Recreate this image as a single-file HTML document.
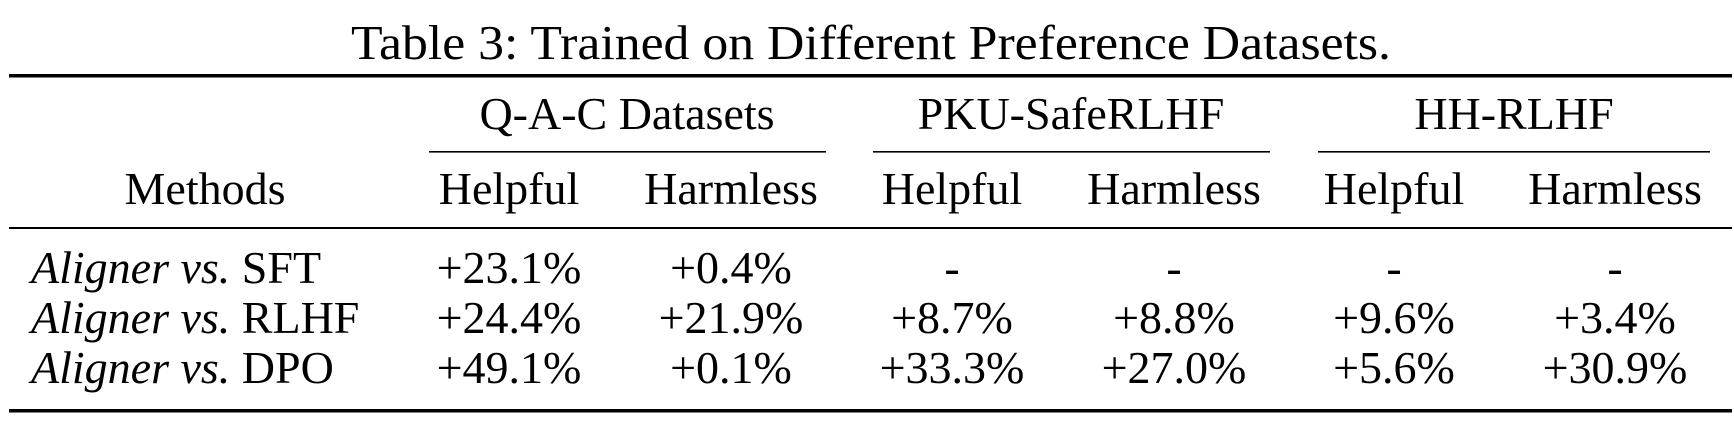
<!DOCTYPE html>
<html><head><meta charset="utf-8"><style>
html,body{margin:0;padding:0;background:#fff;}
svg{display:block;}
text{font-family:"Liberation Serif",serif;fill:#000;}
</style></head><body>
<svg width="1734" height="432" viewBox="0 0 1734 432">
<text x="871" y="59" font-size="49" text-anchor="middle" textLength="1040" lengthAdjust="spacingAndGlyphs">Table 3: Trained on Different Preference Datasets.</text>
<rect x="9" y="74" width="1723" height="3.5"/>
<g font-size="46" text-anchor="middle">
<text x="627" y="129">Q-A-C Datasets</text>
<text x="1071" y="129">PKU-SafeRLHF</text>
<text x="1514" y="129">HH-RLHF</text>
</g>
<rect x="429" y="151" width="397" height="1.6"/>
<rect x="873" y="151" width="397" height="1.6"/>
<rect x="1318" y="151" width="392" height="1.6"/>
<g font-size="46" text-anchor="middle">
<text x="205" y="204">Methods</text>
<text x="509" y="204">Helpful</text>
<text x="731" y="204">Harmless</text>
<text x="952" y="204">Helpful</text>
<text x="1174" y="204">Harmless</text>
<text x="1394" y="204">Helpful</text>
<text x="1615" y="204">Harmless</text>
</g>
<rect x="9" y="227" width="1723" height="2"/>
<g font-size="46">
<text x="31" y="283"><tspan font-style="italic">Aligner vs.</tspan> SFT</text>
<text x="31" y="333"><tspan font-style="italic">Aligner vs.</tspan> RLHF</text>
<text x="31" y="383"><tspan font-style="italic">Aligner vs.</tspan> DPO</text>
</g>
<g font-size="46" text-anchor="middle">
<text x="509" y="283">+23.1%</text>
<text x="731" y="283">+0.4%</text>
<text x="952" y="283">-</text>
<text x="1174" y="283">-</text>
<text x="1394" y="283">-</text>
<text x="1615" y="283">-</text>
<text x="509" y="333">+24.4%</text>
<text x="731" y="333">+21.9%</text>
<text x="952" y="333">+8.7%</text>
<text x="1174" y="333">+8.8%</text>
<text x="1394" y="333">+9.6%</text>
<text x="1615" y="333">+3.4%</text>
<text x="509" y="383">+49.1%</text>
<text x="731" y="383">+0.1%</text>
<text x="952" y="383">+33.3%</text>
<text x="1174" y="383">+27.0%</text>
<text x="1394" y="383">+5.6%</text>
<text x="1615" y="383">+30.9%</text>
</g>
<rect x="9" y="409" width="1723" height="3.5"/>
</svg>
</body></html>
